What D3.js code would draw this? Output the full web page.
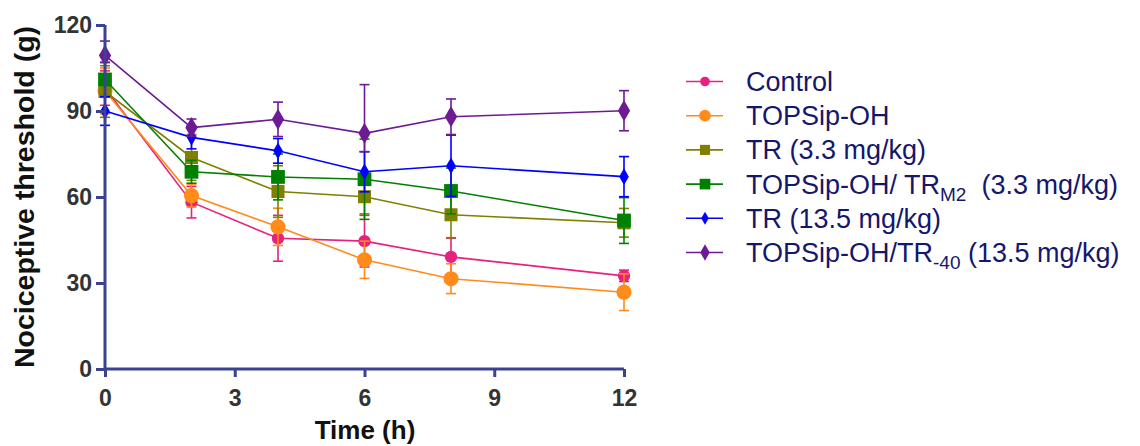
<!DOCTYPE html>
<html><head><meta charset="utf-8">
<script src="https://cdn.jsdelivr.net/npm/d3@7"></script>
<style>body{margin:0;background:#fff}svg{display:block}text{font-family:"Liberation Sans",Arial,sans-serif}</style>
</head><body><svg id="c" width="1140" height="446"></svg>
<script>
const times = [0, 2, 4, 6, 8, 12];
const seriesNames = ["Control", "TOPSip-OH", "TR (3.3 mg/kg)", "TOPSip-OH/ TR_M2 (3.3 mg/kg)", "TR (13.5 mg/kg)", "TOPSip-OH/TR_-40 (13.5 mg/kg)"];
const control     = [98, 58.2, 45.6, 44.6, 39.1, 32.5];
const topsip      = [97, 60.5, 49.6, 38.1, 31.5, 26.8];
const tr33        = [96.8, 73.8, 61.9, 60.1, 53.8, 51];
const trm2        = [101, 68.8, 67, 66.2, 62.1, 51.8];
const tr135       = [90, 80.8, 76.1, 68.8, 70.9, 67.1];
const tr40        = [109.4, 84.2, 87.1, 82.2, 88, 90.1];
const controlErr  = [6, 5.5, 8, 9, 6.5, 2];
const topsipErr   = [8, 4, 6.5, 6.5, 5.2, 6.4];
const tr33Err     = [9, 8, 9, 6, 8, 5];
const trm2Err     = [6, 4, 8, 14, 8, 8];
const tr135Err    = [5, 4, 4.3, 7, 10.7, 7];
const tr40ErrUp   = [5, 3, 6, 17, 6.2, 7];
const tr40ErrDown = [2.5, 3, 6, 6.4, 6.2, 7];
const xTicks = [0, 3, 6, 9, 12];
const yTicks = [0, 30, 60, 90, 120];

const colors = ["#e8207e", "#ff8c1a", "#808000", "#008000", "#0000ff", "#6e1a94"];
const shapes = ["circle", "circle", "square", "square", "diamond", "diamond"];
const sizes  = [120, 180, 170, 190, 80, 130];
const vals = [control, topsip, tr33, trm2, tr135, tr40];
const errUp = [controlErr, topsipErr, tr33Err, trm2Err, tr135Err, tr40ErrUp];
const errDn = [controlErr, topsipErr, tr33Err, trm2Err, tr135Err, tr40ErrDown];

const svg = d3.select("#c");
const x = d3.scaleLinear().domain([0, 12]).range([105, 624]);
const y = d3.scaleLinear().domain([0, 120]).range([369, 25]);
const axisCol = "#3b4291";

const symType = {circle: d3.symbolCircle, square: d3.symbolSquare, diamond: d3.symbolDiamond};

vals.forEach((v, i) => {
  const g = svg.append("g");
  const pts = times.map((t, j) => ({t, v: v[j], up: errUp[i][j], dn: errDn[i][j]}));
  pts.forEach(p => {
    g.append("line").attr("x1", x(p.t)).attr("x2", x(p.t)).attr("y1", y(p.v + p.up)).attr("y2", y(p.v - p.dn))
      .attr("stroke", colors[i]).attr("stroke-width", 1.6);
    [p.v + p.up, p.v - p.dn].forEach(e => {
      g.append("line").attr("x1", x(p.t) - 5).attr("x2", x(p.t) + 5).attr("y1", y(e)).attr("y2", y(e))
        .attr("stroke", colors[i]).attr("stroke-width", 1.6);
    });
  });
  g.append("path").datum(pts).attr("fill", "none").attr("stroke", colors[i]).attr("stroke-width", 1.6)
    .attr("d", d3.line().x(d => x(d.t)).y(d => y(d.v)));
  g.selectAll("path.m").data(pts).join("path").attr("class", "m")
    .attr("transform", d => `translate(${x(d.t)},${y(d.v)})`)
    .attr("d", d3.symbol().type(symType[shapes[i]]).size(sizes[i]))
    .attr("fill", colors[i]);
});

const xa = svg.append("g").attr("transform", "translate(0,369)")
  .call(d3.axisBottom(x).tickValues(xTicks).tickSize(8).tickPadding(13));
const ya = svg.append("g").attr("transform", "translate(105,0)")
  .call(d3.axisLeft(y).tickValues(yTicks).tickSize(9).tickPadding(4));
[xa, ya].forEach(a => {
  a.select(".domain").attr("stroke", axisCol).attr("stroke-width", 3);
  a.selectAll(".tick line").attr("stroke", axisCol).attr("stroke-width", 3);
  a.selectAll(".tick text").attr("fill", "#333").attr("font-size", 23).attr("font-weight", "bold")
    .attr("font-family", '"Liberation Sans",Arial,sans-serif');
});
xa.select(".domain").attr("d", "M105,0H624");
ya.select(".domain").attr("d", "M0,369V25");

svg.append("text").attr("x", 365).attr("y", 439).attr("text-anchor", "middle")
  .attr("font-size", 26).attr("font-weight", "bold").attr("fill", "#111").text("Time (h)");
svg.append("text").attr("transform", "translate(34,197) rotate(-90)").attr("text-anchor", "middle")
  .attr("font-size", 28.5).attr("font-weight", "bold").attr("fill", "#111").text("Nociceptive threshold (g)");

const legY0 = 81.5, legDy = 34.2;
seriesNames.forEach((name, i) => {
  const ly = legY0 + i * legDy;
  svg.append("line").attr("x1", 686).attr("x2", 723).attr("y1", ly).attr("y2", ly)
    .attr("stroke", colors[i]).attr("stroke-width", 1.6);
  svg.append("path").attr("transform", `translate(705,${ly})`)
    .attr("d", d3.symbol().type(symType[shapes[i]]).size(sizes[i] * 0.6)).attr("fill", colors[i]);
  const t = svg.append("text").attr("x", 746).attr("y", ly + 9.5).attr("font-size", 27).attr("fill", "#15176b");
  const parts = name.split("_");
  if (parts.length === 1) { t.text(name); }
  else {
    const rest = parts[1];
    const sp = rest.indexOf(" ");
    const sub = rest.slice(0, sp), tail = rest.slice(sp);
    t.append("tspan").text(parts[0]);
    t.append("tspan").attr("font-size", 19).attr("dy", 7).text(sub);
    t.append("tspan").attr("dy", -7).attr("xml:space", "preserve").text(i === 3 ? "  " + tail.trim() : " " + tail.trim());
  }
});
</script></body></html>
